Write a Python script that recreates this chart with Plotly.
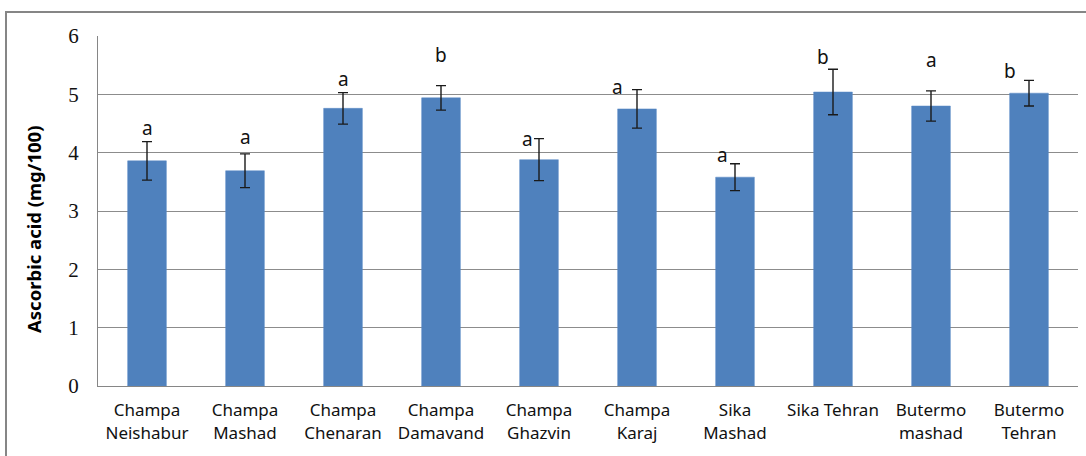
import plotly.graph_objects as go

categories = ["Champa<br>Neishabur", "Champa<br>Mashad", "Champa<br>Chenaran", "Champa<br>Damavand",
              "Champa<br>Ghazvin", "Champa<br>Karaj", "Sika<br>Mashad", "Sika Tehran",
              "Butermo<br>mashad", "Butermo<br>Tehran"]
means = [3.86, 3.69, 4.76, 4.94, 3.88, 4.75, 3.58, 5.04, 4.80, 5.02]
errors = [0.33, 0.29, 0.27, 0.21, 0.36, 0.33, 0.23, 0.39, 0.26, 0.22]
letters = ["a", "a", "a", "b", "a", "a", "a", "b", "a", "b"]
y_ticks = [0, 1, 2, 3, 4, 5, 6]

# label placement tweaks (pixels) relative to the top of each error bar
label_dx = [0, 0, 0, 0, -12, -20, -13, -10, 0, -19]
label_dy = [14, 17, 14, 31, 0, 3, 9, 12, 31, 9]

SANS = "Noto Sans, Liberation Sans, sans-serif"

fig = go.Figure()
fig.add_trace(go.Bar(
    x=categories, y=means,
    marker=dict(color="#4F81BD", line=dict(color="#5A8AC6", width=0.5)),
    error_y=dict(type="data", array=errors, visible=True, color="#1a1a1a", thickness=1.4, width=5),
    width=0.395,
))

for c, m, e, t, dx, dy in zip(categories, means, errors, letters, label_dx, label_dy):
    fig.add_annotation(x=c, y=m + e, text=t, showarrow=False, xshift=dx, yshift=dy,
                       font=dict(family=SANS, size=19, color="#111"),
                       xanchor="center", yanchor="middle")

fig.add_annotation(xref="paper", yref="paper", x=(33 - 98) / 980, y=(386 - 230) / 350,
                   text="<b>Ascorbic acid (mg/100)</b>", textangle=-90, showarrow=False,
                   font=dict(family=SANS, size=18.5, color="#000"),
                   xanchor="center", yanchor="middle")

# outer chart border
fig.add_shape(type="rect", xref="paper", yref="paper",
              x0=(6 - 98) / 980, x1=(1092 - 98) / 980,
              y0=(386 - 460) / 350, y1=(386 - 12) / 350,
              line=dict(color="#868686", width=2), fillcolor="rgba(0,0,0,0)", layer="below")

fig.update_layout(
    width=1086, height=456,
    margin=dict(l=98, r=8, t=36, b=70),
    paper_bgcolor="white", plot_bgcolor="white",
    showlegend=False,
    bargap=0.6,
)
fig.update_xaxes(
    showline=True, linecolor="#868686", linewidth=1,
    ticks="", tickfont=dict(family=SANS, size=17, color="#111"),
    ticklabelstandoff=9,
)
fig.update_yaxes(
    range=[0, 6], tickvals=y_ticks, ticktext=[str(v) for v in y_ticks],
    showgrid=True, gridcolor="#8c8c8c", gridwidth=1,
    showline=True, linecolor="#868686", linewidth=1,
    zeroline=False,
    tickfont=dict(family="Liberation Serif, Times New Roman, serif", size=21, color="#111"),
    ticklabelstandoff=14,
)

fig.write_html("out.html", config={"displayModeBar": False},
               post_script="document.body.style.margin='0';")
